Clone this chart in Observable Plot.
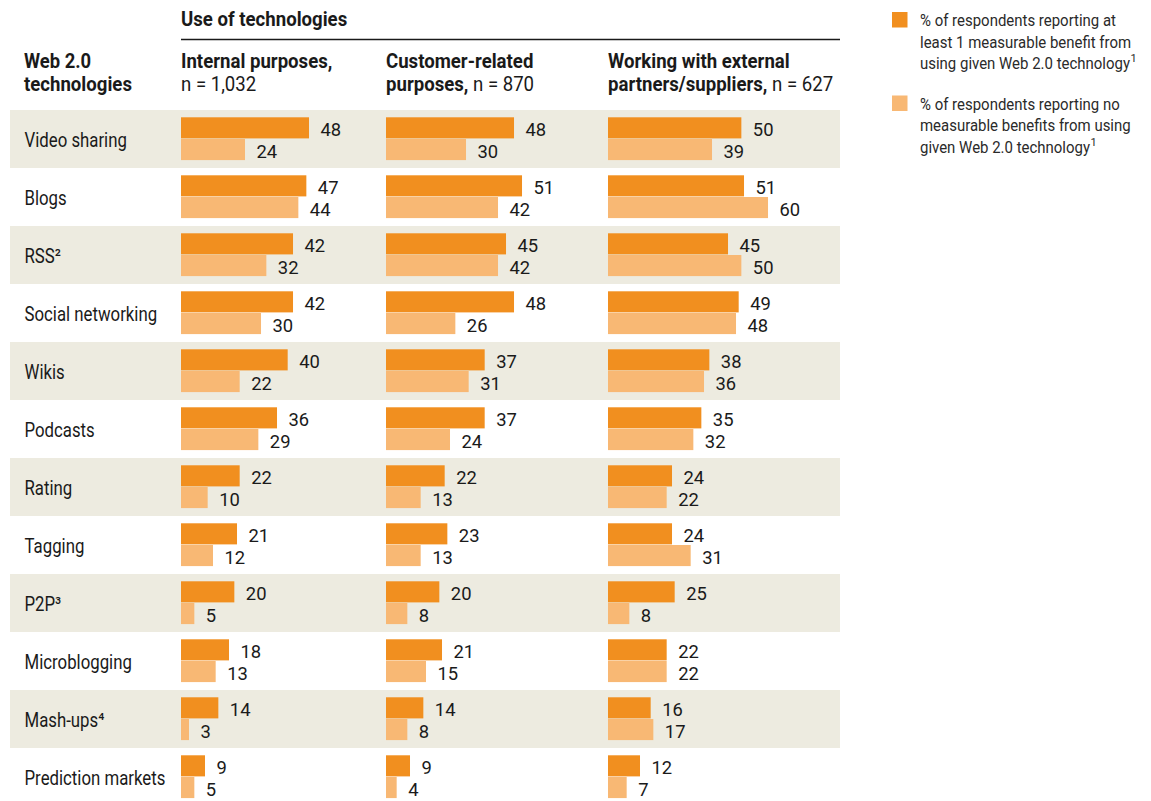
<!DOCTYPE html>
<html>
<head>
<meta charset="utf-8">
<script src="https://cdn.jsdelivr.net/npm/d3@7"></script>
<script src="https://cdn.jsdelivr.net/npm/@observablehq/plot@0.6"></script>
<style>
  html, body { margin: 0; padding: 0; background: #fff; overflow: hidden; }
  #root { position: relative; width: 1151px; height: 801px; overflow: hidden;
          font-family: "Roboto", "Liberation Sans", sans-serif; color: #1a1a1a; }
  .abs { position: absolute; top: 0; left: 0; }
</style>
</head>
<body>
<div id="root"></div>
<script>
// ---- data ----
const techs = ["Video sharing", "Blogs", "RSS²", "Social networking", "Wikis", "Podcasts",
  "Rating", "Tagging", "P2P³", "Microblogging", "Mash-ups⁴", "Prediction markets"];
const internalBenefit = [48, 47, 42, 42, 40, 36, 22, 21, 20, 18, 14, 9];
const internalNone    = [24, 44, 32, 30, 22, 29, 10, 12, 5, 13, 3, 5];
const customerBenefit = [48, 51, 45, 48, 37, 37, 22, 23, 20, 21, 14, 9];
const customerNone    = [30, 42, 42, 26, 31, 24, 13, 13, 8, 15, 8, 4];
const externalBenefit = [50, 51, 45, 49, 38, 35, 24, 24, 25, 22, 16, 12];
const externalNone    = [39, 60, 50, 48, 36, 32, 22, 31, 8, 22, 17, 7];
const panelTitles = ["Internal purposes,", "Customer-related", "Working with external"];
const panelSubs = [["", "n = 1,032"], ["purposes,", " n = 870"], ["partners/suppliers,", " n = 627"]];
const legendLabels = [
  ["% of respondents reporting at", "least 1 measurable benefit from", "using given Web 2.0 technology"],
  ["% of respondents reporting no", "measurable benefits from using", "given Web 2.0 technology"]
];

// ---- style ----
const DARK = "#f18f1f", LIGHT = "#f8b874", BEIGE = "#edebe0", INK = "#1a1a1a";
const FONT = '"Roboto", "Liberation Sans", sans-serif';
const TOP = 106, ROWH = 58.6, H = ROWH * techs.length;
const PX_PER_UNIT = 2.667;
const panelLeft = [181, 386, 608];
const root = document.getElementById("root");

function place(node, left, top) {
  node.classList.add("abs");
  node.style.left = left + "px";
  node.style.top = top + "px";
  node.style.overflow = "visible";
  root.appendChild(node);
}
// horizontally condense rendered text (the reference uses a condensed face)
function squeeze(el, factor) {
  const len = el.getComputedTextLength();
  if (len > 0) {
    el.setAttribute("textLength", (len * factor).toFixed(2));
    el.setAttribute("lengthAdjust", "spacingAndGlyphs");
  }
}

// ---- background bands + row labels ----
const bg = Plot.plot({
  width: 840, height: H,
  marginLeft: 10, marginRight: 0, marginTop: 0, marginBottom: 0,
  style: {fontFamily: FONT, background: "transparent"},
  y: {domain: techs, range: [0, H], padding: 0, axis: null},
  marks: [
    Plot.cell(techs.filter((d, i) => i % 2 === 0), {y: d => d, fill: BEIGE}),
    Plot.text(techs, {y: d => d, text: d => d, frameAnchor: "left", dx: 14, dy: 1.2,
      textAnchor: "start", fontSize: 20, fill: INK})
  ]
});
place(bg, 0, TOP);
bg.querySelectorAll("text").forEach(t => squeeze(t, 0.84));

// ---- panels ----
const series = [[internalBenefit, internalNone], [customerBenefit, customerNone], [externalBenefit, externalNone]];
series.forEach(([ben, none], p) => {
  const rows = techs.map((t, i) => ({tech: t, benefit: ben[i], none: none[i]}));
  const W = 240;
  const chart = Plot.plot({
    width: W, height: H,
    marginLeft: 0, marginRight: 0, marginTop: 0, marginBottom: 0,
    style: {fontFamily: FONT, background: "transparent", overflow: "visible"},
    x: {domain: [0, W / PX_PER_UNIT], range: [0, W], axis: null},
    y: {domain: techs, range: [0, H], padding: 0, axis: null},
    marks: [
      Plot.barX(rows, {x: "benefit", y: "tech", fill: DARK, insetTop: 7.3, insetBottom: ROWH - 29}),
      Plot.barX(rows, {x: "none", y: "tech", fill: LIGHT, insetTop: 29, insetBottom: ROWH - 50.7}),
      Plot.text(rows, {x: "benefit", y: "tech", text: "benefit", dx: 11, dy: 18.15 - ROWH / 2 + 1.6,
        textAnchor: "start", fontSize: 19, fill: INK}),
      Plot.text(rows, {x: "none", y: "tech", text: "none", dx: 11, dy: 39.85 - ROWH / 2 + 1.6,
        textAnchor: "start", fontSize: 19, fill: INK})
    ]
  });
  place(chart, panelLeft[p], TOP);
  chart.querySelectorAll("text").forEach(t => squeeze(t, 0.97));
});

// ---- headers and legend ----
const svg = d3.create("svg").attr("width", 1151).attr("height", 180)
  .style("font-family", FONT).attr("fill", INK);
const hdr = svg.node();
place(hdr, 0, 0);
const sq = [];
const h1 = svg.append("text").attr("x", 181).attr("y", 26).attr("font-size", 20).attr("font-weight", "bold")
  .text("Use of technologies");
sq.push([h1.node(), 0.93]);
svg.append("line").attr("x1", 181).attr("x2", 840).attr("y1", 39.5).attr("y2", 39.5)
  .attr("stroke", INK).attr("stroke-width", 1.3);
const lbl = svg.append("text").attr("font-size", 20).attr("font-weight", "bold");
sq.push([lbl.append("tspan").attr("x", 24).attr("y", 68).text("Web 2.0").node(), 0.92]);
sq.push([lbl.append("tspan").attr("x", 24).attr("y", 91).text("technologies").node(), 0.93]);
panelTitles.forEach((t, p) => {
  const a = svg.append("text").attr("font-size", 20).attr("font-weight", "bold")
    .attr("x", panelLeft[p]).attr("y", 68).text(t);
  sq.push([a.node(), 0.93]);
  let x2 = panelLeft[p];
  if (panelSubs[p][0]) {
    const b = svg.append("text").attr("font-size", 20).attr("font-weight", "bold")
      .attr("x", x2).attr("y", 91).text(panelSubs[p][0]);
    const w = b.node().getComputedTextLength() * 0.93;
    sq.push([b.node(), 0.93]);
    x2 += w;
  }
  const c = svg.append("text").attr("font-size", 20).attr("xml:space", "preserve")
    .style("white-space", "pre").attr("x", x2).attr("y", 91).text(panelSubs[p][1]);
  sq.push([c.node(), 0.93]);
});
// legend
const legendColors = [DARK, LIGHT];
const legendTop = [12, 95.5];
legendLabels.forEach((lines, k) => {
  svg.append("rect").attr("x", 892).attr("y", legendTop[k]).attr("width", 15.5).attr("height", 15.5)
    .attr("fill", legendColors[k]);
  lines.forEach((ln, j) => {
    const y = legendTop[k] + 14 + j * 21.5;
    const t = svg.append("text").attr("font-size", 17).attr("fill", "#2a2a2a")
      .attr("x", 920).attr("y", y).text(ln);
    const w = t.node().getComputedTextLength() * 0.88;
    sq.push([t.node(), 0.88]);
    if (j === lines.length - 1) {
      svg.append("text").attr("font-size", 11).attr("fill", "#2a2a2a")
        .attr("x", 920 + w + 0.5).attr("y", y - 7).text("1");
    }
  });
});
sq.forEach(([el, f]) => squeeze(el, f));
</script>
</body>
</html>
